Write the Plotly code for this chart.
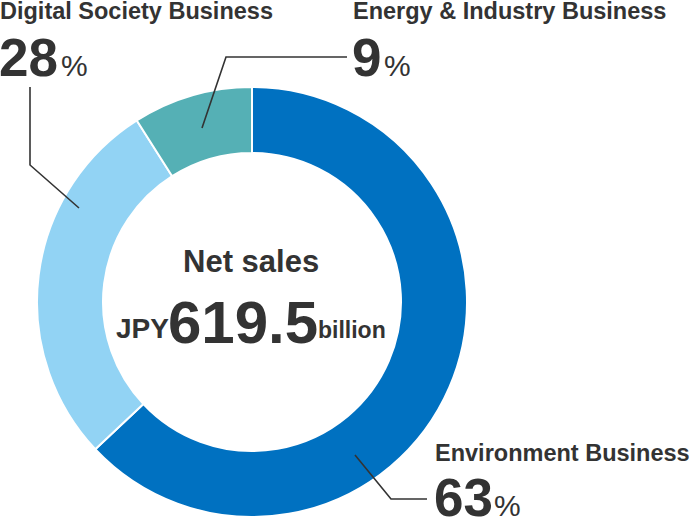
import plotly.graph_objects as go

W, H = 690, 520

segments = ["Environment Business", "Digital Society Business", "Energy & Industry Business"]
shares = [63, 28, 9]
colors = ["#0071c1", "#92d3f4", "#55b0b5"]
center_title = "Net sales"
center_value = "619.5"
center_unit_pre = "JPY"
center_unit_post = "billion"

TXT = "#333333"
FONT = "Liberation Sans, Arial, Helvetica, sans-serif"


def px(x):
    return x / W


def py(y):
    return 1 - y / H


cx, cy, R = 252, 302, 215

fig = go.Figure(go.Pie(
    labels=segments, values=shares, marker=dict(colors=colors, line=dict(color="white", width=2)),
    hole=149 / 215, sort=False, direction="clockwise", rotation=0,
    textinfo="none", hoverinfo="label+percent", showlegend=False,
    domain=dict(x=[px(cx - R), px(cx + R)], y=[py(cy + R), py(cy - R)]),
))

ann = []


def text(t, x, baseline, fs, anchor="left", bold=True, family=FONT):
    # yanchor bottom: box bottom = baseline + descent + pad
    ybot = baseline + 0.212 * fs
    ann.append(dict(
        text=f"<b>{t}</b>" if bold else t, x=px(x), y=py(ybot), xref="paper", yref="paper",
        xanchor=anchor, yanchor="bottom", showarrow=False,
        font=dict(family=family, size=fs, color=TXT),
    ))


LBL = 23.5
BIG = 53
PCT = 30

# Digital Society
text(segments[1], -2, 21, LBL)
text(f"{shares[1]}", -3, 78, BIG)
text("%", 59, 78, PCT, bold=False)
# Energy & Industry
text(segments[2], 351, 21, LBL)
text(f"{shares[2]}", 350, 78, BIG)
text("%", 382, 78, PCT, bold=False)
# Environment
text(segments[0], 433, 463, LBL)
text(f"{shares[0]}", 432, 518, BIG)
text("%", 492, 518, PCT, bold=False)

# center
text(center_title, 251, 274, 31, anchor="center")
text(center_unit_pre, 171, 340, 28, anchor="right")
text(center_value, 243, 345, 60, anchor="center")
text(center_unit_post, 316, 340, 23)

fig.update_layout(annotations=ann)

# leader lines
lines = [
    [(30, 87), (30, 165), (79, 208)],
    [(202, 128), (226, 57), (347, 57)],
    [(355, 455), (391, 499), (427, 499)],
]
shapes = []
for pts in lines:
    path = "M " + " L ".join(f"{px(x)},{py(y)}" for x, y in pts)
    shapes.append(dict(type="path", path=path, xref="paper", yref="paper",
                       line=dict(color=TXT, width=1.6)))
fig.update_layout(shapes=shapes)

fig.update_layout(width=W, height=H, margin=dict(l=0, r=0, t=0, b=0),
                  paper_bgcolor="white", plot_bgcolor="white")

fig.write_html("out.html", config={"displayModeBar": False},
               post_script="document.body.style.margin='0';document.body.style.overflow='hidden';")
